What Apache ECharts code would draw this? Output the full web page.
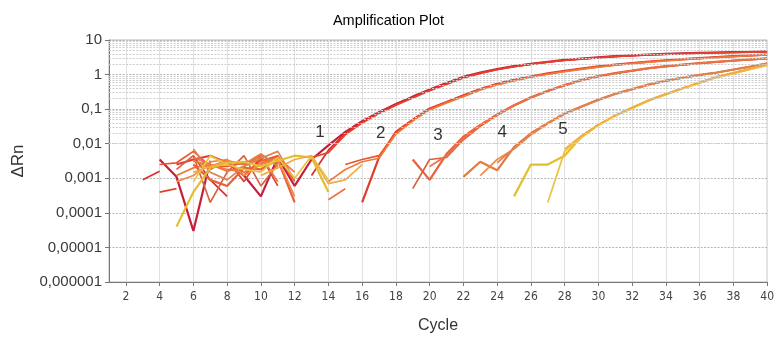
<!DOCTYPE html>
<html><head><meta charset="utf-8">
<script src="https://cdn.jsdelivr.net/npm/echarts@6/dist/echarts.min.js"></script>
<style>html,body{margin:0;padding:0;background:#fff}#c{width:777px;height:339px}</style>
</head><body><div id="c"></div>
<script>
const n = null;
const cycles = [1,2,3,4,5,6,7,8,9,10,11,12,13,14,15,16,17,18,19,20,21,22,23,24,25,26,27,28,29,30,31,32,33,34,35,36,37,38,39,40];
const xTickValues = [2,4,6,8,10,12,14,16,18,20,22,24,26,28,30,32,34,36,38,40];
const yTickLabels = ['0,000001','0,00001','0,0001','0,001','0,01','0,1','1','10'];

const g1a = [n,n,n,0.0035,0.0011,0.00003,0.0032,n,0.0012,0.0003,
 0.004,0.0006,0.0035,0.009,0.022,0.045,0.082,0.14,0.23,0.37,
 0.57,0.86,1.15,1.45,1.75,2.05,2.35,2.65,2.9,3.15,
 3.4,3.6,3.8,3.95,4.1,4.25,4.35,4.45,4.55,4.7];
const g1b = [n,n,0.0009,0.0016,n,0.0045,0.0009,0.0003,n,0.0025,
 0.0045,n,0.0012,0.0065,0.02,0.042,0.078,0.135,0.22,0.35,
 0.54,0.82,1.1,1.4,1.7,2.0,2.3,2.6,2.85,3.1,
 3.35,3.55,3.75,3.9,4.05,4.2,4.3,4.4,4.5,4.6];
const g1c = [n,n,n,0.0004,0.0005,n,0.0018,0.0035,0.0008,0.0045,
 0.0006,n,0.004,0.0055,0.018,0.04,0.075,0.13,0.21,0.34,
 0.52,0.8,1.08,1.38,1.68,1.98,2.28,2.55,2.8,3.05,
 3.3,3.5,3.7,3.85,4.0,4.15,4.25,4.35,4.45,4.55];
const g2a = [n,n,n,n,0.0025,0.0035,0.0045,0.0028,0.0012,0.0035,
 0.0028,n,n,n,n,0.0002,0.004,0.022,0.05,0.105,
 0.16,0.25,0.38,0.54,0.7,0.88,1.08,1.28,1.5,1.72,
 1.94,2.16,2.38,2.6,2.8,3.0,3.2,3.4,3.6,3.8];
const g2b = [n,n,n,0.0025,0.0028,0.006,0.0022,0.0022,0.0028,0.0032,
 0.0045,0.0008,n,n,0.0025,0.0035,0.0045,0.02,0.048,0.1,
 0.155,0.24,0.37,0.52,0.68,0.86,1.05,1.25,1.46,1.68,
 1.9,2.12,2.34,2.55,2.75,2.95,3.15,3.35,3.55,3.75];
const g2c = [n,n,n,n,0.0012,0.002,0.0025,0.0018,0.0015,0.0028,
 0.004,0.0015,n,0.0008,0.0018,0.003,0.0038,0.019,0.045,0.095,
 0.15,0.23,0.36,0.5,0.66,0.84,1.02,1.22,1.42,1.64,
 1.86,2.08,2.3,2.5,2.7,2.9,3.1,3.3,3.5,3.7];
const g3a = [n,n,n,n,n,0.0025,0.0009,0.0006,0.002,0.0018,
 0.0035,0.0002,n,n,n,n,n,n,0.0035,0.0009,
 0.005,0.016,0.035,0.07,0.13,0.22,0.34,0.5,0.7,0.9,
 1.1,1.3,1.55,1.75,1.95,2.15,2.35,2.55,2.75,2.95];
const g3b = [n,n,n,n,0.0018,0.0045,0.0002,0.0015,0.0045,0.0006,
 0.0025,n,n,n,n,n,n,n,0.0005,0.0035,
 0.004,0.013,0.032,0.066,0.125,0.21,0.33,0.48,0.68,0.88,
 1.08,1.28,1.5,1.7,1.9,2.1,2.3,2.5,2.7,2.9];
const g3c = [n,n,n,n,n,0.004,0.0025,0.0016,0.0022,0.0045,
 0.0008,n,n,0.00024,0.0005,n,n,n,n,0.0022,
 0.0045,0.014,0.034,0.068,0.128,0.215,0.335,0.49,0.69,0.89,
 1.09,1.29,1.52,1.72,1.92,2.12,2.32,2.52,2.72,2.92];
const g4a = [n,n,n,n,n,0.0032,0.0022,0.0032,0.0025,0.005,
 0.0022,n,n,n,n,n,n,n,n,n,
 n,0.0011,0.003,0.0017,0.008,0.02,0.04,0.075,0.12,0.19,
 0.28,0.38,0.52,0.67,0.82,0.98,1.15,1.4,1.7,2.1];
const g4b = [n,n,n,n,0.0008,0.0012,0.003,0.0035,0.0012,0.0025,
 0.0035,0.0003,n,n,n,n,n,n,n,n,
 n,n,0.0012,0.0035,0.007,0.018,0.038,0.072,0.115,0.18,
 0.27,0.37,0.5,0.65,0.8,0.96,1.13,1.38,1.68,2.05];
const g4c = [n,n,n,n,n,0.007,0.0015,0.0009,0.0022,0.0038,
 0.006,0.0009,n,n,n,n,n,n,n,n,
 n,n,n,0.0028,0.0075,0.019,0.039,0.074,0.118,0.185,
 0.275,0.375,0.51,0.66,0.81,0.97,1.14,1.39,1.69,2.08];
const g5a = [n,n,n,n,0.00004,0.0004,0.002,0.0028,0.003,0.0022,
 0.0032,0.0045,0.004,0.0004,n,n,n,n,n,n,
 n,n,n,n,0.0003,0.0025,0.0025,0.0045,0.016,0.035,
 0.065,0.11,0.18,0.27,0.4,0.58,0.85,1.1,1.45,1.9];
const g5b = [n,n,n,n,n,0.0008,0.0045,0.0025,0.0018,0.0015,
 0.004,0.001,0.0045,0.0009,n,n,n,n,n,n,
 n,n,n,n,n,n,0.0002,0.006,0.015,0.034,
 0.063,0.105,0.175,0.26,0.39,0.56,0.82,1.07,1.4,1.85];
const g5c = [n,n,n,n,n,0.0015,0.0022,0.003,n,0.0012,
 0.002,0.0035,0.0045,0.0007,0.0009,0.0025,n,n,n,n,
 n,n,n,n,n,n,n,0.007,0.017,0.036,
 0.067,0.112,0.185,0.28,0.41,0.6,0.87,1.12,1.48,1.95];

const wells = [g1a,g1b,g1c,g2a,g2b,g2c,g3a,g3b,g3c,g4a,g4b,g4c,g5a,g5b,g5c];
const wellColors = ['#c61f3e','#dc2f2f','#e5412c','#e23b2e','#e9552f','#ef7a3a',
 '#e8613a','#d9623f','#ee7242','#e57a3c','#f08a48','#dc8253',
 '#e3bf30','#ecc43c','#f2aa44'];

const annotationTexts = ['1','2','3','4','5'];
const annotationCycles = [13.5,17.1,20.5,24.3,27.9];
const annotationValues = [0.022,0.0195,0.017,0.022,0.0255];

const minorGrid = [];
for (let e = -6; e <= 0; e++) for (let k = 2; k <= 9; k++) minorGrid.push(k * Math.pow(10, e));

const FONT = "'Liberation Sans', Arial, sans-serif";
const series = [{
  type: 'line', data: [], z: 1, silent: true,
  markLine: { silent: true, symbol: 'none', animation: false,
    label: { show: false },
    lineStyle: { color: '#cdcdcd', width: 1, type: [2, 1.4] },
    data: minorGrid.map(v => ({ yAxis: v })) }
}];
wells.forEach((vals, i) => series.push({
  type: 'line', z: 3, showSymbol: false, symbol: 'none', animation: false,
  connectNulls: false,
  lineStyle: { color: wellColors[i], width: i % 3 === 0 ? 2.2 : 1.7 },
  data: cycles.map((c, j) => [c, vals[j]])
}));
series.push({
  type: 'scatter', z: 5, symbolSize: 0, silent: true, animation: false,
  label: { show: true, position: 'inside', formatter: p => p.name,
    fontSize: 17, color: '#000', fontFamily: FONT },
  data: annotationTexts.map((t, i) => ({ name: t, value: [annotationCycles[i], annotationValues[i]] }))
});

const chart = echarts.init(document.getElementById('c'));
chart.setOption({
  animation: false,
  backgroundColor: '#fff',
  title: { text: 'Amplification Plot', left: 'center', top: 8,
    textStyle: { fontSize: 14.5, fontWeight: 'normal', color: '#000', fontFamily: FONT } },
  grid: { left: 109, right: 5, top: 40, bottom: 56, show: true, borderColor: '#b8b8b8', borderWidth: 1 },
  xAxis: {
    type: 'value', min: 1, max: 40, interval: 1,
    name: 'Cycle', nameLocation: 'middle', nameGap: 36,
    nameTextStyle: { fontSize: 16, color: '#333', fontFamily: FONT },
    axisLine: { lineStyle: { color: '#777' } },
    axisTick: { length: 4, customValues: xTickValues, lineStyle: { color: '#777' } },
    axisLabel: { customValues: xTickValues, margin: 9, fontSize: 12, color: '#444',
      fontFamily: "'Liberation Sans Narrow', 'DejaVu Sans Condensed', sans-serif" },
    splitLine: { show: true, lineStyle: { color: '#e0e0e0', width: 1 } }
  },
  yAxis: {
    type: 'log', logBase: 10, min: 0.000001, max: 10, splitNumber: 7,
    name: 'ΔRn', nameLocation: 'middle', nameGap: 82,
    nameTextStyle: { fontSize: 17, color: '#333', fontFamily: FONT },
    axisLine: { show: true, lineStyle: { color: '#777' } },
    axisTick: { show: true, length: 4, lineStyle: { color: '#777' } },
    axisLabel: { margin: 7, fontSize: 15, color: '#3a3a3a', fontFamily: FONT,
      formatter: v => yTickLabels[Math.round(Math.log10(v)) + 6] },
    splitLine: { show: true, lineStyle: { color: '#b5b5b5', width: 1, type: [2, 1.4] } }
  },
  series
});
</script></body></html>
